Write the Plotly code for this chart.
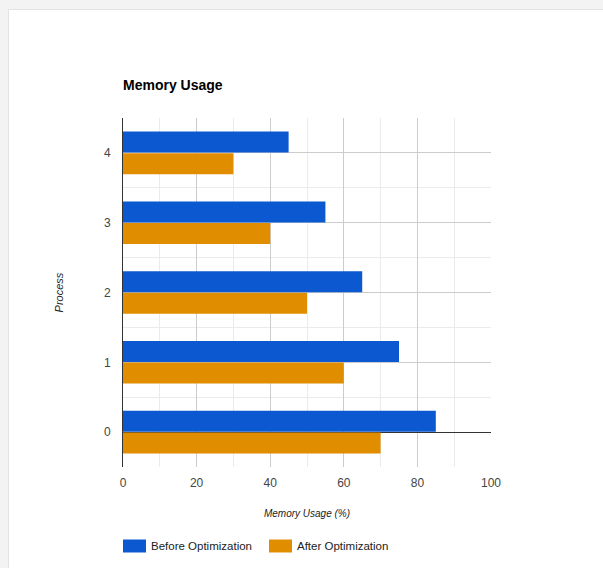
import plotly.graph_objects as go

# Memory usage per process, before and after optimization (%)
processes = [0, 1, 2, 3, 4]
before_opt = [85, 75, 65, 55, 45]
after_opt = [70, 60, 50, 40, 30]
x_ticks = [0, 20, 40, 60, 80, 100]
series_names = ["Before Optimization", "After Optimization"]

BLUE = "#0b58d0"
ORANGE = "#e08e00"
FONT = "Liberation Sans, Arial, sans-serif"

W, H = 603, 568
L, R, T, B = 123, 112, 118, 101
pw, ph = W - L - R, H - T - B


def px_to_paper_x(px):
    return (px - L) / pw


def px_to_paper_y(py):
    return (H - B - py) / ph


fig = go.Figure()

# orange first so the blue bar sits on top within each group
fig.add_trace(go.Bar(
    y=processes, x=after_opt, orientation="h", name=series_names[1],
    marker=dict(color=ORANGE, line=dict(width=0)), showlegend=False,
))
fig.add_trace(go.Bar(
    y=processes, x=before_opt, orientation="h", name=series_names[0],
    marker=dict(color=BLUE, line=dict(width=0)), showlegend=False,
))

# white card on a light grey page
fig.add_shape(
    type="rect", xref="paper", yref="paper", layer="below",
    x0=px_to_paper_x(8.5), x1=px_to_paper_x(W + 20),
    y0=px_to_paper_y(H + 20), y1=px_to_paper_y(9.5),
    fillcolor="white", line=dict(color="#e3e3e3", width=1),
)

# legend row with wide colour swatches
legend_items = [(series_names[0], BLUE, 123), (series_names[1], ORANGE, 269)]
for name, color, left in legend_items:
    fig.add_shape(
        type="rect", xref="paper", yref="paper",
        x0=px_to_paper_x(left), x1=px_to_paper_x(left + 23),
        y0=px_to_paper_y(552.5), y1=px_to_paper_y(539.5),
        fillcolor=color, line=dict(width=0),
    )
    fig.add_annotation(
        text=name, xref="paper", yref="paper",
        x=px_to_paper_x(left + 26), y=px_to_paper_y(546),
        xanchor="left", yanchor="middle", showarrow=False,
        font=dict(family=FONT, size=11.5, color="#222222"),
    )

fig.update_layout(
    width=W, height=H,
    margin=dict(l=L, r=R, t=T, b=B, pad=0),
    paper_bgcolor="#f3f3f3",
    plot_bgcolor="rgba(0,0,0,0)",
    barmode="group",
    bargap=0.38,
    bargroupgap=0.03,
    font=dict(family=FONT, size=12, color="#444444"),
    title=dict(
        text="<b>Memory Usage</b>",
        x=0, xref="paper", xanchor="left",
        y=1 - 85 / H, yref="container", yanchor="middle",
        font=dict(family=FONT, size=14, color="#000000"),
    ),
    xaxis=dict(
        range=[0, 100], tickvals=x_ticks, showgrid=True, gridcolor="#cccccc",
        gridwidth=1, zeroline=False, showline=False,
        minor=dict(dtick=10, showgrid=True, gridcolor="#ebebeb"),
        ticks="", ticklabelstandoff=7,
        tickfont=dict(family=FONT, size=12, color="#444444"),
        title=dict(text="Memory Usage (%)", standoff=20,
                   font=dict(family=FONT, size=10, color="#222222", style="italic")),
        fixedrange=True,
    ),
    yaxis=dict(
        range=[-0.5, 4.5], tickvals=processes, showgrid=True, gridcolor="#cccccc",
        zeroline=True, zerolinecolor="#333333", zerolinewidth=1,
        showline=True, linecolor="#333333", linewidth=1,
        minor=dict(tickvals=[-0.5, 0.5, 1.5, 2.5, 3.5, 4.5], showgrid=True,
                   gridcolor="#ebebeb"),
        ticks="", ticklabelstandoff=9,
        tickfont=dict(family=FONT, size=12, color="#444444"),
        title=dict(text="Process", standoff=38,
                   font=dict(family=FONT, size=11, color="#222222", style="italic")),
        fixedrange=True,
    ),
    showlegend=False,
)

fig.write_html("out.html")
